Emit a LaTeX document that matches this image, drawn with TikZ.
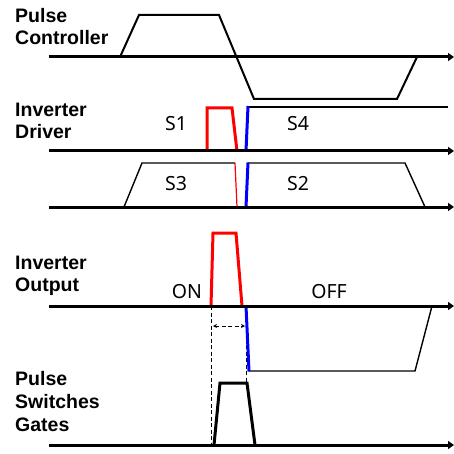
\documentclass[tikz,border=0pt]{standalone}
\usepackage{fontspec}
\setmainfont{Liberation Sans}
\newfontfamily\lblfont{Noto Sans}
\usetikzlibrary{arrows.meta}
\tikzset{
  axis/.style={line width=3pt,-{Triangle[length=6pt,width=8pt]}},
  title/.style={anchor=base west,inner sep=0pt,font=\fontsize{19.5}{22}\selectfont\bfseries},
  sig/.style={anchor=base,inner sep=0pt,font=\fontsize{19.5}{22}\lblfont},
  thin/.style={line width=1.4pt,line join=miter},
  thick/.style={line width=3pt,line join=miter},
  guide/.style={line width=1pt,dash pattern=on 4pt off 2.5pt},
}
\begin{document}
\begin{tikzpicture}[x=1pt,y=-1pt]
\useasboundingbox (0,0) rectangle (454,454);
% titles
\node[title] (pc1) at (15,23) {Pulse};
\node[title] (pc2) at (15,45) {Controller};
\node[title] (id1) at (15,117) {Inverter};
\node[title] (id2) at (15,139) {Driver};
\node[title] (io1) at (15,269) {Inverter};
\node[title] (io2) at (15,291) {Output};
\node[title] (ps1) at (15,385) {Pulse};
\node[title] (ps2) at (15,408) {Switches};
\node[title] (ps3) at (15,431) {Gates};
% signal labels
\node[sig] (s1) at (176,131) {S1};
\node[sig] (s4) at (298,131) {S4};
\node[sig] (s3) at (176,190) {S3};
\node[sig] (s2) at (298,190) {S2};
\node[sig] (on) at (187,298) {ON};
\node[sig] (off) at (329,298) {OFF};
% pulse controller
\draw[line width=2pt,line join=miter] (120,57) -- (139,15) -- (219,15) -- (254,99) -- (397,99) -- (417,57);
% inverter driver S1/S4
\draw[thick,red] (207,151) -- (207,108) -- (232,108) -- (237,151);
\draw[thin] (248,107) -- (448,107);
\draw[thick,blue] (246,151) -- (248,106);
% S3/S2
\draw[thin] (124,207) -- (142,163) -- (235,163);
\draw[line width=1.2pt,red] (235,163) -- (237,207);
\draw[thin] (248,163) -- (405,163) -- (425,207);
\draw[thick,blue] (246,207) -- (248,162.5);
% inverter output
\draw[thick,red] (211,306) -- (213,233) -- (236,233) -- (242,306);
\draw[thin] (249,371) -- (415,371) -- (432,306);
% guides
\draw[guide] (211,306) -- (211,445);
\draw[guide] (246,306) -- (246,383);
\draw[guide,{Stealth[length=4pt,width=4pt]}-{Stealth[length=4pt,width=4pt]}] (213,326) -- (245,326);
\draw[thick,blue] (246,306) -- (249,371.5);
% gates
\draw[thick] (214,445) -- (220,383) -- (247,383) -- (255,445);
% axes
\coordinate (a1s) at (49,57);  \coordinate (a1e) at (454,57);
\coordinate (a2s) at (49,151); \coordinate (a2e) at (454,151);
\coordinate (a3s) at (49,207); \coordinate (a3e) at (454,207);
\coordinate (a4s) at (49,306); \coordinate (a4e) at (454,306);
\coordinate (a5s) at (49,445); \coordinate (a5e) at (454,445);
\draw[axis] (a1s) -- (a1e);
\draw[axis] (a2s) -- (a2e);
\draw[axis] (a3s) -- (a3e);
\draw[axis] (a4s) -- (a4e);
\draw[axis] (a5s) -- (a5e);
\end{tikzpicture}
\end{document}
